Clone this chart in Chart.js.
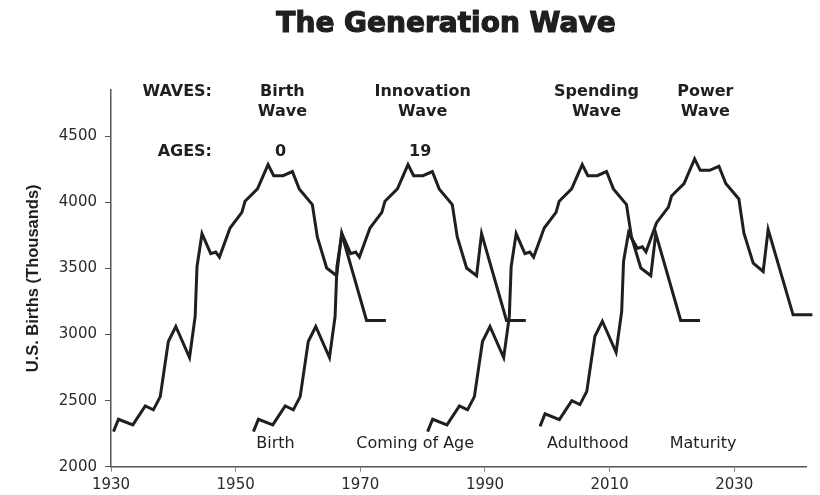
<!DOCTYPE html>
<html>
<head>
<meta charset="utf-8">
<title>The Generation Wave</title>
<script src="https://cdn.jsdelivr.net/npm/chart.js@4.4.1/dist/chart.umd.min.js"></script>
<style>
  body { margin: 0; background: #fff; }
  #wrap { width: 820px; height: 495px; position: relative; }
</style>
</head>
<body>
<div id="wrap"><canvas id="wave-chart"></canvas></div>
<script>
// Generation wave: the same birth curve repeated with a lag for each wave
const waveNames = [["Birth", "Wave"], ["Innovation", "Wave"], ["Spending", "Wave"], ["Power", "Wave"]];
const waveAges = ["0", "19", "", ""];
const lifeStages = ["Birth", "Coming of Age", "Adulthood", "Maturity"];

const birthYears = [
  1930.4, 1931.2, 1933.5, 1935.5, 1936.8, 1937.9, 1939.2, 1940.4, 1942.6, 1943.5,
  1943.8, 1944.6, 1946.0, 1946.8, 1947.4, 1949.1, 1951.0, 1951.5, 1953.5, 1955.2,
  1956.1, 1957.6, 1959.1, 1960.2, 1962.3, 1963.1, 1964.6, 1966.2, 1967.0, 1971.0,
  1974.1,
];
const births = [
  2265, 2359, 2316, 2460, 2430, 2530, 2947, 3061, 2826, 3136,
  3515, 3763, 3612, 3624, 3586, 3806, 3924, 4008, 4102, 4286,
  4202, 4202, 4233, 4102, 3983, 3738, 3503, 3445, 3763, 3106,
  3106,
];
// the power wave is drawn a little higher in the picture
const powerWaveBirths = [
  2305, 2400, 2356, 2500, 2470, 2570, 2987, 3101, 2866, 3176,
  3555, 3770, 3652, 3664, 3626, 3846, 3964, 4048, 4142, 4329,
  4242, 4242, 4273, 4142, 4026, 3768, 3540, 3477, 3794, 3149,
  3149,
];
const waveLags = [0, 22.45, 50.4, 68.43];
const waveValues = [births, births, births, powerWaveBirths];

const yearTicks = [1930, 1950, 1970, 1990, 2010, 2030];
const birthTicks = [2000, 2500, 3000, 3500, 4000, 4500];

const datasets = waveLags.map(function (lag, w) {
  return {
    label: waveNames[w].join(" "),
    data: birthYears.map(function (year, i) {
      return { x: year + lag, y: waveValues[w][i] };
    }),
    borderColor: "#1f1f1f",
    borderWidth: 3,
    pointRadius: 0,
    tension: 0,
    fill: false,
    clip: false,
  };
});

// header, age and life-stage text drawn over the plot
const waveText = {
  id: "waveText",
  afterDraw(chart) {
    const ctx = chart.ctx;
    const xs = chart.scales.x;
    ctx.save();
    ctx.fillStyle = "#1f1f1f";
    ctx.strokeStyle = "#1f1f1f";
    ctx.textBaseline = "alphabetic";

    // heavy title
    ctx.textAlign = "center";
    ctx.font = "bold 28px 'DejaVu Sans'";
    ctx.lineWidth = 1.2;
    ctx.fillText("The Generation Wave", 446, 32);
    ctx.strokeText("The Generation Wave", 446, 32);

    ctx.font = "bold 16px 'DejaVu Sans'";
    ctx.textAlign = "right";
    ctx.fillText("WAVES:", 212, 96);
    ctx.fillText("AGES:", 212, 156);

    const labelYears = [1957.5, 1980.0, 2007.9, 2025.35];
    const ageYears = [1957.2, 1979.6];
    const stageYears = [1956.4, 1978.8, 2006.5, 2025.0];

    ctx.textAlign = "center";
    waveNames.forEach(function (lines, i) {
      const x = xs.getPixelForValue(labelYears[i]);
      ctx.fillText(lines[0], x, 96);
      ctx.fillText(lines[1], x, 115.5);
    });
    waveAges.forEach(function (age, i) {
      if (age) ctx.fillText(age, xs.getPixelForValue(ageYears[i]), 156);
    });

    ctx.font = "16px 'DejaVu Sans'";
    lifeStages.forEach(function (stage, i) {
      ctx.fillText(stage, xs.getPixelForValue(stageYears[i]), 448);
    });
    ctx.restore();
  },
};

const waveChart = document.getElementById("wave-chart");

new Chart(waveChart, {
  type: "line",
  data: { datasets: datasets },
  plugins: [waveText],
  options: {
    responsive: true,
    maintainAspectRatio: false,
    animation: false,
    layout: {
      padding: { top: 90, right: 14, bottom: 0, left: 0 },
    },
    plugins: {
      legend: { display: false },
      tooltip: { enabled: false },
    },
    scales: {
      x: {
        type: "linear",
        min: 1930,
        max: 2041.5,
        afterBuildTicks: function (axis) {
          axis.ticks = yearTicks.map(function (v) { return { value: v }; });
        },
        afterFit: function (scale) {
          scale.height = 28.3;
        },
        ticks: {
          callback: function (v) { return String(v); },
          color: "#2a2a2a",
          font: { family: "'DejaVu Sans'", size: 15 },
          padding: 4,
          maxRotation: 0,
          autoSkip: false,
        },
        grid: {
          drawOnChartArea: false,
          drawTicks: true,
          tickLength: 5,
          tickColor: "#8a8060",
        },
        border: { color: "#555", width: 1.5 },
      },
      y: {
        min: 2000,
        max: 4850,
        afterBuildTicks: function (axis) {
          axis.ticks = birthTicks.map(function (v) { return { value: v }; });
        },
        afterFit: function (scale) {
          scale.width = 111;
        },
        ticks: {
          callback: function (v) { return String(v); },
          color: "#2a2a2a",
          font: { family: "'DejaVu Sans'", size: 15 },
          padding: 8,
          autoSkip: false,
        },
        grid: {
          drawOnChartArea: false,
          drawTicks: true,
          tickLength: 6,
          tickColor: "#555",
        },
        border: { color: "#555", width: 1.5 },
        title: {
          display: true,
          text: "U.S. Births (Thousands)",
          color: "#1f1f1f",
          font: { family: "'Liberation Sans'", size: 16.5, weight: "bold" },
          padding: { top: 24, bottom: 0 },
        },
      },
    },
  },
});
</script>
</body>
</html>
